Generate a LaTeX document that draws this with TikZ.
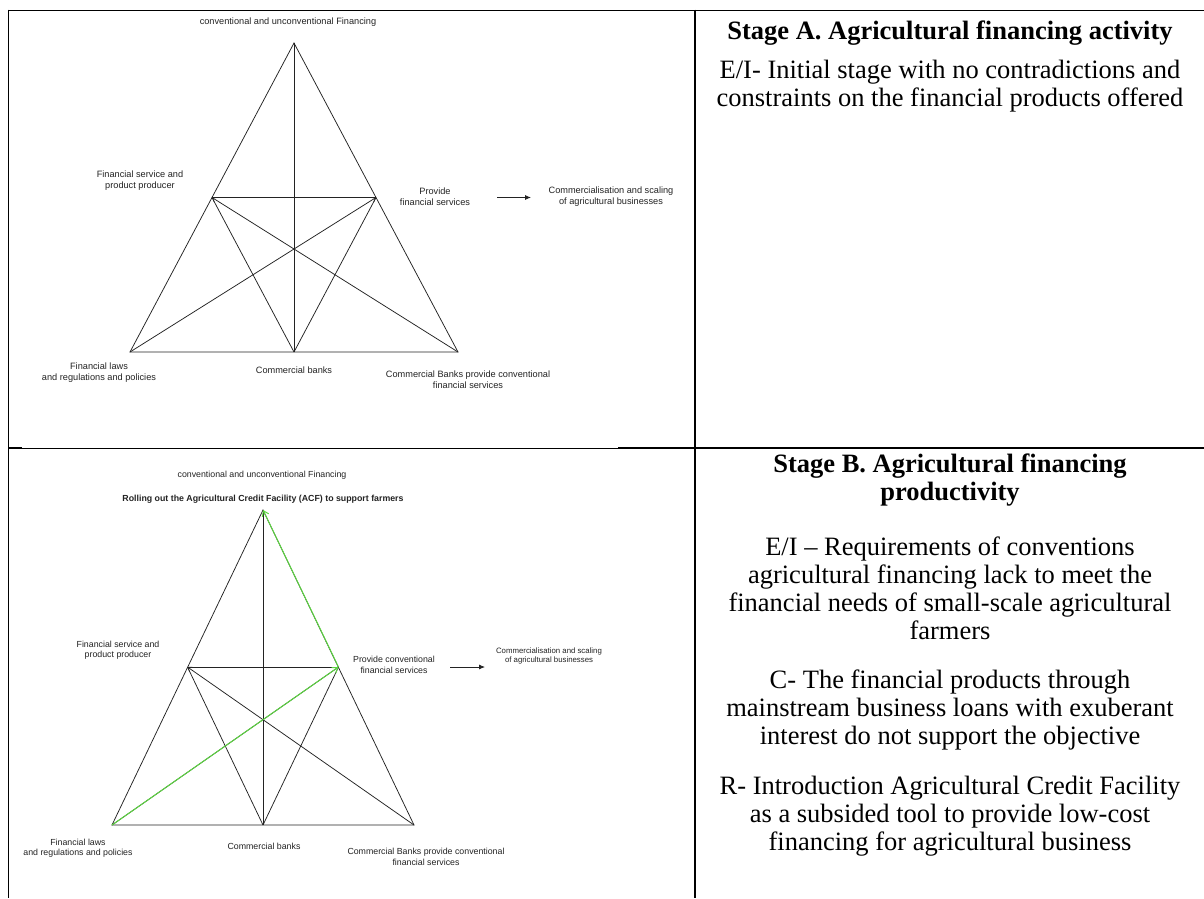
\documentclass[tikz,border=0pt]{standalone}
\usepackage{fontspec}
\setmainfont{Liberation Serif}
\newfontfamily\diagfont{Liberation Sans}
\usetikzlibrary{arrows.meta}

\definecolor{ink}{RGB}{35,35,35}
\definecolor{acfgreen}{RGB}{92,214,64}

\tikzset{
  rule/.style={line width=1.6pt, black},
  thinrule/.style={line width=0.9pt, black},
  edge/.style={line width=0.75pt, ink},
  tipped/.style={edge, -{Straight Barb[length=3.5pt,width=5pt,line width=0.7pt]}},
  lblA/.style={font=\diagfont\fontsize{9.2}{10.8}\selectfont, text=ink, align=center, inner sep=0pt},
  lblB/.style={font=\diagfont\fontsize{8.8}{10.4}\selectfont, text=ink, align=center, inner sep=0pt},
  head/.style={font=\bfseries\fontsize{26.5}{28}\selectfont, align=center, inner sep=0pt},
  body/.style={font=\fontsize{26.5}{28}\selectfont, align=center, inner sep=0pt},
  flow/.style={line width=0.8pt, ink, -{Latex[length=6pt,width=5pt]}},
  acf/.style={line width=1pt, acfgreen, -{Straight Barb[length=5pt,width=7pt,line width=1pt]}}
}

\begin{document}
\begin{tikzpicture}[x=1pt,y=-1pt]
\useasboundingbox (0,0) rectangle (1204,898);
\fill[white] (0,0) rectangle (1204,898);

% table rules
\draw[rule] (8.5,10.5) -- (22,10.5);
\draw[thinrule] (22,10.5) -- (683,10.5);
\draw[rule] (683,10.5) -- (1204,10.5);
\draw[rule] (8.5,448) -- (22,448);
\draw[thinrule] (22,448) -- (618,448);
\draw[rule] (618,448) -- (1204,448);
\draw[rule] (8.5,9.7) -- (8.5,898);
\draw[rule] (695,9.7) -- (695,898);

% ---------- Stage A diagram ----------
\coordinate (a1) at (294,43);
\coordinate (bl1) at (130,352);
\coordinate (br1) at (458,352);
\coordinate (bm1) at (294,352);
\coordinate (lm1) at (212,197.5);
\coordinate (rm1) at (376,197.5);

\draw[edge] (a1) -- (bl1) -- (br1) -- cycle;
\draw[edge] (a1) -- (bm1);
\draw[edge] (lm1) -- (rm1);
\draw[edge] (lm1) -- (bm1);
\draw[edge] (rm1) -- (bm1);
\draw[tipped] (br1) -- (lm1);
\draw[tipped] (bl1) -- (rm1);

\node[lblA] (topA) at (288,22) {conventional and unconventional Financing};
\node[lblA] (prodA) at (140,181) {Financial service and\\product producer};
\node[lblA] (provA) at (435,197) {Provide\\financial services};
\node[lblA] (commA) at (611,197) {Commercialisation and scaling\\of agricultural businesses};
\node[lblA] (lawsA) at (99,373) {Financial laws\\and regulations and policies};
\node[lblA] (bankA) at (294,370) {Commercial banks};
\node[lblA] (convA) at (468,380) {Commercial Banks provide conventional\\financial services};
\coordinate (tailA) at (497,197.5);
\coordinate (tipA) at (531,197.5);
\draw[flow] (tailA) -- (tipA);

% ---------- Stage B diagram ----------
\coordinate (a2) at (263,510);
\coordinate (bl2) at (112,825);
\coordinate (br2) at (414,825);
\coordinate (bm2) at (263,825);
\coordinate (lm2) at (187.5,667);
\coordinate (rm2) at (338.5,667);

\draw[edge] (a2) -- (bl2) -- (br2) -- cycle;
\draw[edge] (a2) -- (bm2);
\draw[edge] (lm2) -- (rm2);
\draw[edge] (lm2) -- (bm2);
\draw[edge] (rm2) -- (bm2);
\draw[tipped] (br2) -- (lm2);
\draw[edge] (bl2) -- (rm2);

\draw[acf] (bl2) -- (rm2);
\draw[acf] (rm2) -- (a2);

\node[lblB] (topB) at (262,475) {conventional and unconventional Financing};
\node[lblB, font=\diagfont\bfseries\fontsize{8.8}{10.4}\selectfont] (acfB) at (263,499) {Rolling out the Agricultural Credit Facility (ACF) to support farmers};
\node[lblB] (prodB) at (118,650) {Financial service and\\product producer};
\node[lblB] (provB) at (394,665) {Provide conventional\\financial services};
\node[lblB, font=\diagfont\fontsize{7.8}{9.8}\selectfont] (commB) at (549,656) {Commercialisation and scaling\\of agricultural businesses};
\node[lblB] (lawsB) at (78,848) {Financial laws\\and regulations and policies};
\node[lblB] (bankB) at (264,846) {Commercial banks};
\node[lblB] (convB) at (426,857) {Commercial Banks provide conventional\\financial services};
\coordinate (tailB) at (450,667);
\coordinate (tipB) at (485,667);
\draw[flow] (tailB) -- (tipB);

% ---------- Stage texts ----------
\node[head] (tA) at (950,33) {Stage A. Agricultural financing activity};
\node[body] (pA) at (950,86) {E/I- Initial stage with no contradictions and\\constraints on the financial products offered};

\node[head] (tB) at (950,480) {Stage B. Agricultural financing\\productivity};
\node[body] (pB1) at (950,588) {E/I – Requirements of conventions\\agricultural financing lack to meet the\\financial needs of small-scale agricultural\\farmers};
\node[body] (pB2) at (950,710) {C- The financial products through\\mainstream business loans with exuberant\\interest do not support the objective};
\node[body] (pB3) at (950,816) {R- Introduction Agricultural Credit Facility\\as a subsided tool to provide low-cost\\financing for agricultural business};
\end{tikzpicture}
\end{document}
